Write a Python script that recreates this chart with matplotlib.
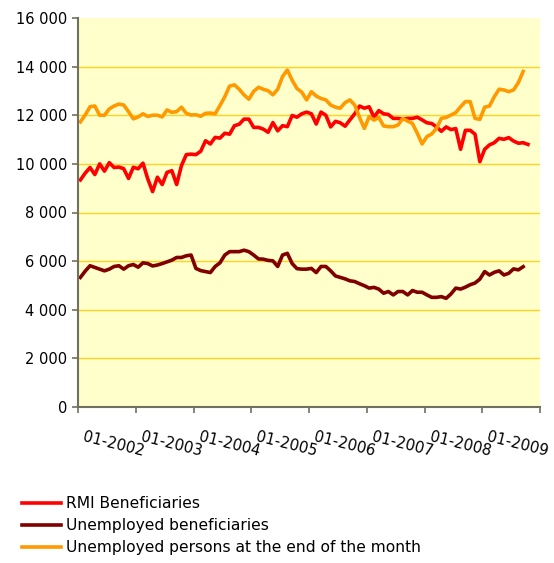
import numpy as np
import matplotlib
matplotlib.use('Agg')
import matplotlib.pyplot as plt
from matplotlib.ticker import FuncFormatter
from matplotlib.transforms import ScaledTranslation

# monthly values, Jan 2002 onwards
rmi_beneficiaries = [
    9340, 9620, 9850, 9560, 10000, 9700, 10050, 9850, 9870, 9800,
    9400, 9860, 9800, 10030, 9380, 8860, 9450, 9150, 9650, 9720,
    9150, 9930, 10380, 10400, 10380, 10520, 10950, 10820, 11090, 11060,
    11260, 11220, 11570, 11630, 11840, 11840, 11500, 11500, 11430, 11300,
    11700, 11360, 11570, 11530, 11990, 11920, 12060, 12130, 12060, 11640,
    12130, 12000, 11520, 11750, 11690, 11550, 11810, 12060, 12380, 12290,
    12350, 11920, 12190, 12060, 12030, 11870, 11870, 11850, 11870, 11870,
    11920, 11810, 11690, 11660, 11520, 11340, 11520, 11410, 11450, 10600,
    11380, 11380, 11220, 10090, 10600, 10780, 10870, 11050, 11010, 11080,
    10940, 10850, 10870, 10800]

unemployed_beneficiaries = [
    5330, 5590, 5810, 5740, 5670, 5600, 5670, 5780, 5810, 5670,
    5810, 5860, 5750, 5930, 5900, 5800, 5840, 5900, 5970, 6040,
    6150, 6150, 6220, 6250, 5700, 5610, 5570, 5530, 5780, 5930,
    6250, 6390, 6390, 6390, 6450, 6390, 6250, 6090, 6080, 6030,
    6010, 5780, 6250, 6320, 5900, 5690, 5670, 5670, 5700, 5530,
    5780, 5780, 5600, 5390, 5330, 5270, 5190, 5160, 5070, 4990,
    4890, 4920, 4850, 4680, 4750, 4610, 4750, 4750, 4610, 4790,
    4720, 4720, 4610, 4510, 4510, 4540, 4470, 4650, 4890, 4850,
    4930, 5030, 5100, 5260, 5570, 5430, 5540, 5600, 5430, 5500,
    5680, 5640, 5770]

unemployed_persons = [
    11730, 12010, 12350, 12380, 12000, 12000, 12260, 12380, 12460, 12420,
    12150, 11850, 11930, 12060, 11950, 12000, 12000, 11930, 12220, 12120,
    12150, 12330, 12080, 12010, 12020, 11960, 12080, 12090, 12060, 12400,
    12760, 13200, 13250, 13070, 12840, 12660, 12980, 13150, 13070, 13010,
    12840, 13070, 13590, 13860, 13440, 13100, 12950, 12630, 12970, 12790,
    12690, 12630, 12420, 12330, 12290, 12520, 12630, 12420, 11910, 11460,
    11940, 11800, 11910, 11560, 11530, 11530, 11600, 11870, 11760, 11660,
    11260, 10820, 11120, 11230, 11460, 11870, 11910, 12010, 12110, 12350,
    12560, 12560, 11870, 11830, 12330, 12380, 12760, 13070, 13040, 12970,
    13040, 13340, 13800]

year_labels = ['01-2002', '01-2003', '01-2004', '01-2005',
               '01-2006', '01-2007', '01-2008', '01-2009']

series_names = ['RMI Beneficiaries', 'Unemployed beneficiaries',
                'Unemployed persons at the end of the month']
series_colors = ['#ff0000', '#800000', '#ff9900']

# ---------------------------------------------
fig = plt.figure(figsize=(5.54, 5.63), dpi=100)
ax = fig.add_axes([78/554, 1 - 407/563, 462/554, 389/563])
ax.set_facecolor('#ffffcc')

all_series = [rmi_beneficiaries, unemployed_beneficiaries, unemployed_persons]
for vals, name, col in zip(all_series, series_names, series_colors):
    ax.plot(np.arange(len(vals)), vals, color=col, lw=2.6, label=name,
            solid_joinstyle='round')

ax.set_xlim(-0.5, 95.5)
ax.set_ylim(0, 16000)

# y axis
ax.set_yticks(np.arange(0, 16001, 2000))
ax.yaxis.set_major_formatter(FuncFormatter(lambda v, p: '{:,}'.format(int(v)).replace(',', ' ')))
ax.yaxis.grid(True, color='#ffd21f', lw=1.0)
ax.set_axisbelow(True)
ax.get_ygridlines()[-1].set_visible(False)
ax.get_ygridlines()[0].set_visible(False)

# x axis: ticks at year boundaries, labels hang to the right
tick_pos = np.arange(9) * 12 - 0.5
ax.set_xticks(tick_pos)
ax.set_xticklabels(year_labels + [''])

for s in ['top', 'right']:
    ax.spines[s].set_visible(False)
for s in ['left', 'bottom']:
    ax.spines[s].set_color('#707060')
    ax.spines[s].set_linewidth(1.5)

ax.tick_params(axis='both', colors='#707060', length=4, width=1.2, direction='out')
ax.tick_params(axis='y', labelsize=10.5, labelcolor='black', pad=4)
ax.tick_params(axis='x', labelsize=10.8, labelcolor='black', pad=12)

offset = ScaledTranslation(5/72, 0, fig.dpi_scale_trans)
for lbl in ax.get_xticklabels():
    lbl.set_rotation(-14)
    lbl.set_ha('left')
    lbl.set_va('top')
    lbl.set_rotation_mode('anchor')
    lbl.set_transform(lbl.get_transform() + offset)

leg = fig.legend(loc='upper left', bbox_to_anchor=(22/554, 1 - 496/563),
                 frameon=False, fontsize=11.2, handlelength=2.5,
                 handletextpad=0.3, borderpad=0, borderaxespad=0,
                 labelspacing=0.45)

plt.savefig('out.png', dpi=100)
